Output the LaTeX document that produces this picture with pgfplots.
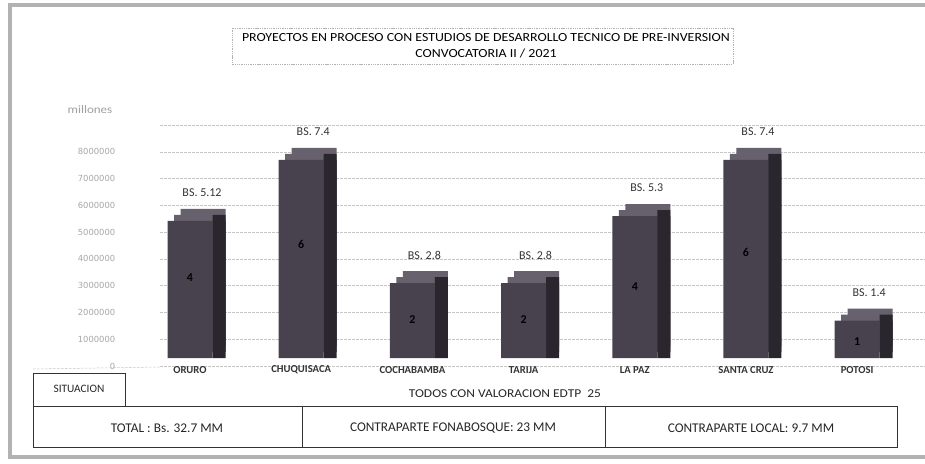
\documentclass[border=0pt]{standalone}
\usepackage{pgfplots}
\pgfplotsset{compat=1.18}
\usepackage{fontspec}
\setmainfont{Carlito}
\newfontfamily\tickfont{DejaVu Sans}
\definecolor{frontc}{HTML}{48424F}
\definecolor{sidec}{HTML}{29262E}
\definecolor{topc}{HTML}{67616D}
\begin{document}
\begin{tikzpicture}[x=0.75pt,y=-0.75pt]
\useasboundingbox (0,0) rectangle (925,464);
\draw[gray!60, line width=2.4pt] (925,5) -- (10,5) -- (10,457) -- (925,457);
\draw[gray!45, dash pattern=on 2pt off 1pt, line width=0.4pt] (33,369) -- (160,367);
\begin{axis}[
  at={(120pt,-274.5pt)}, anchor=south west,
  scale only axis, width=573.75pt, height=180.75pt,
  xmin=-0.27, xmax=6.61, ymin=0, ymax=9000000,
  clip=false,
  axis line style={draw=none},
  major tick length=0pt,
  scaled y ticks=false,
  ytick={0,1000000,2000000,3000000,4000000,5000000,6000000,7000000,8000000,9000000},
  yticklabels={0,1000000,2000000,3000000,4000000,5000000,6000000,7000000,8000000,{}},
  yticklabel style={font=\tickfont\fontsize{6.3}{7}\selectfont, text=gray!70, anchor=east, xshift=-30pt},
  ymajorgrids,
  grid style={gray!45, dash pattern=on 2pt off 1pt, line width=0.4pt},
  xtick={0,1,2,3,4,5,6},
  xticklabels={ORURO,CHUQUISACA,COCHABAMBA,TARIJA,LA PAZ,SANTA CRUZ,POTOSI},
  xticklabel style={font=\bfseries\fontsize{8}{9}\selectfont, anchor=center, yshift=-3pt, text=black!80},
]
% back (top face) bars
\addplot[ybar, bar width=33.75pt, fill=topc, draw=none, xshift=9.75pt, yshift=15pt]
  coordinates {(0,5120000) (1,7400000) (2,2800000) (3,2800000) (4,5300000) (5,7400000) (6,1400000)};
\addplot[ybar, bar width=33.75pt, fill=topc, draw=none, xshift=4.875pt, yshift=10.5pt]
  coordinates {(0,5120000) (1,7400000) (2,2800000) (3,2800000) (4,5300000) (5,7400000) (6,1400000)};
% side faces
\addplot[ybar, bar width=9.75pt, bar shift=21.75pt, fill=sidec, draw=none, yshift=10.5pt]
  coordinates {(0,5120000) (1,7400000) (2,2800000) (3,2800000) (4,5300000) (5,7400000) (6,1400000)};
\addplot[ybar, bar width=9.75pt, bar shift=21.75pt, fill=sidec, draw=none, yshift=6pt]
  coordinates {(0,5120000) (1,7400000) (2,2800000) (3,2800000) (4,5300000) (5,7400000) (6,1400000)};
% front faces with value labels
\addplot[ybar, bar width=33.75pt, fill=frontc, draw=none, yshift=6pt,
  nodes near coords, point meta=explicit symbolic,
  nodes near coords style={font=\fontsize{9}{10}\selectfont, text=black!80, anchor=center, xshift=9pt, yshift=21pt}]
  coordinates {(0,5120000)[BS. 5.12] (1,7400000)[BS. 7.4] (2,2800000)[BS. 2.8] (3,2800000)[BS. 2.8] (4,5300000)[BS. 5.3] (5,7400000)[BS. 7.4] (6,1400000)[BS. 1.4]};
% project counts inside the bars
\addplot[draw=none, mark=none, nodes near coords, point meta=explicit symbolic,
  nodes near coords style={font=\bfseries\fontsize{9}{10}\selectfont, text=black, anchor=center}]
  coordinates {(0,3300000)[4] (1,4550000)[6] (2,1720000)[2] (3,1720000)[2] (4,2950000)[4] (5,4230000)[6] (6,900000)[1]};
\end{axis}
% title
\draw[gray!60, dash pattern=on 1pt off 0.7pt, line width=0.5pt] (232,28) rectangle (733,64);
\node[font=\fontsize{9.3}{11}\selectfont] at (486,38) {\scalebox{1.12}[1]{PROYECTOS EN PROCESO CON ESTUDIOS DE DESARROLLO TECNICO DE PRE-INVERSION}};
\node[font=\fontsize{9.3}{11}\selectfont] at (486,53) {\scalebox{1.12}[1]{CONVOCATORIA II / 2021}};
\node[font=\fontsize{8.5}{9}\selectfont, text=gray!75] at (90,110) {\scalebox{1.15}[1]{millones}};
% bottom table
\draw[black!80, line width=0.6pt] (33,373) rectangle (125,406);
\node[font=\fontsize{8.5}{10}\selectfont, text=black!85] at (79,389) {SITUACION};
\node[font=\fontsize{9}{11}\selectfont, text=black!85] at (505,394) {\scalebox{1.12}[1]{TODOS CON VALORACION EDTP\ \ 25}};
\draw[black!80, line width=0.6pt] (33,406) rectangle (897,447);
\draw[black!80, line width=0.6pt] (302,406) -- (302,447);
\draw[black!80, line width=0.6pt] (605,406) -- (605,447);
\node[font=\fontsize{10}{11}\selectfont, text=black!85] at (167,428) {TOTAL : Bs. 32.7 MM};
\node[font=\fontsize{10}{11}\selectfont, text=black!85] at (453,428) {CONTRAPARTE FONABOSQUE: 23 MM};
\node[font=\fontsize{10}{11}\selectfont, text=black!85] at (751,428) {CONTRAPARTE LOCAL: 9.7 MM};
\end{tikzpicture}
\end{document}
